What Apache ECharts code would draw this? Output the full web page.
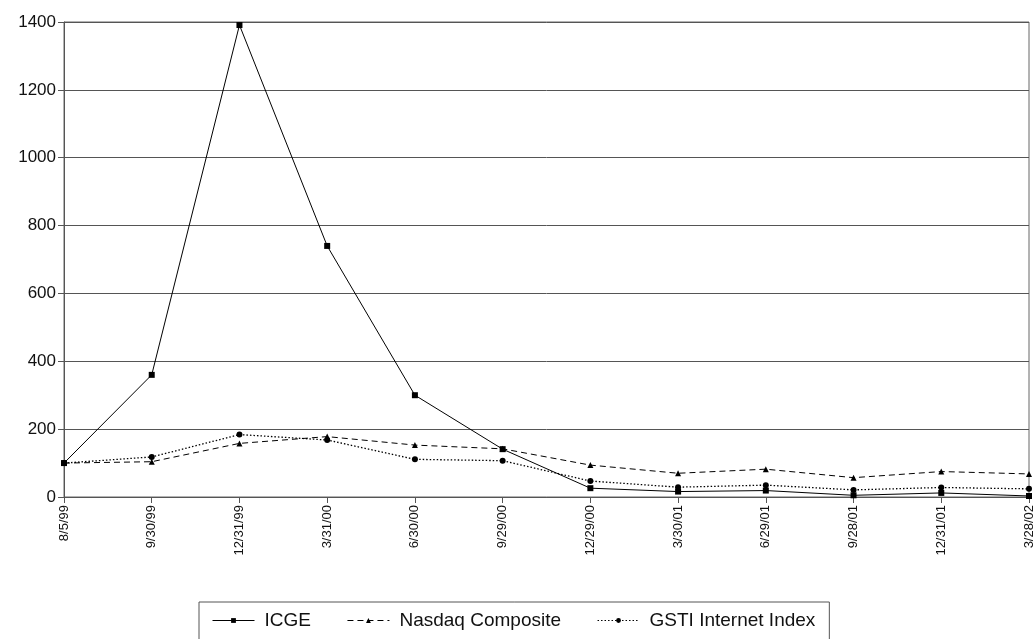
<!DOCTYPE html>
<html>
<head>
<meta charset="utf-8">
<script src="https://cdn.jsdelivr.net/npm/echarts@6/dist/echarts.min.js"></script>
<style>html,body{margin:0;padding:0;background:#fff}#c{width:1036px;height:639px}</style>
</head>
<body>
<div id="c"></div>
<script>
var categories = ['8/5/99','9/30/99','12/31/99','3/31/00','6/30/00','9/29/00','12/29/00','3/30/01','6/29/01','9/28/01','12/31/01','3/28/02'];
var icge = [100, 360, 1391, 740, 300, 141, 26, 16, 19, 5, 12, 3];
var nasdaq = [100, 104, 158, 178, 153, 142, 94, 70, 82, 57, 75, 68];
var gsti = [100, 118, 184, 168, 111, 107, 47, 29, 35, 21, 28, 24];
var yTicks = [0, 200, 400, 600, 800, 1000, 1200, 1400];

var chart = echarts.init(document.getElementById('c'));
var font = 'Liberation Sans, Arial, sans-serif';
chart.setOption({
  animation: false,
  backgroundColor: '#fff',
  grid: {left: 64, right: 7, top: 22, bottom: 142, show: true, borderColor: '#666', borderWidth: 1},
  legend: {
    left: 199, top: 602, width: 640, height: 40,
    borderColor: '#555', borderWidth: 1,
    padding: [9, 14, 14, 13],
    itemGap: 36, itemWidth: 42, itemHeight: 6,
    lineStyle: {width: 1},
    textStyle: {fontFamily: font, fontSize: 19, color: '#111', padding: [0, 0, 0, 5]},
    data: ['ICGE', 'Nasdaq Composite', 'GSTI Internet Index']
  },
  xAxis: {
    type: 'category', data: categories, boundaryGap: false,
    axisLine: {lineStyle: {color: '#555', width: 1}},
    axisTick: {show: true, length: 6, alignWithLabel: true, lineStyle: {color: '#555'}},
    axisLabel: {rotate: 90, fontFamily: font, fontSize: 13, color: '#111', margin: 8, interval: 0},
    splitLine: {show: false}
  },
  yAxis: {
    type: 'value', min: 0, max: yTicks[yTicks.length - 1], interval: 200,
    axisLine: {show: true, lineStyle: {color: '#555', width: 1}},
    axisTick: {show: true, length: 6, inside: false, lineStyle: {color: '#555'}},
    axisLabel: {fontFamily: font, fontSize: 17, color: '#111', margin: 8,
      formatter: function (v) { return String(v); }},
    splitLine: {show: true, lineStyle: {color: '#555', width: 1}}
  },
  series: [
    {name: 'ICGE', type: 'line', data: icge, symbol: 'rect', symbolSize: 6,
     itemStyle: {color: '#000'}, lineStyle: {color: '#000', width: 1, type: 'solid'}},
    {name: 'Nasdaq Composite', type: 'line', data: nasdaq, symbol: 'triangle', symbolSize: 6,
     itemStyle: {color: '#000'}, lineStyle: {color: '#000', width: 1, type: [6, 4]}},
    {name: 'GSTI Internet Index', type: 'line', data: gsti, symbol: 'circle', symbolSize: 6,
     itemStyle: {color: '#000'}, lineStyle: {color: '#000', width: 1.3, type: [1.5, 2]}}
  ]
});
</script>
</body>
</html>
